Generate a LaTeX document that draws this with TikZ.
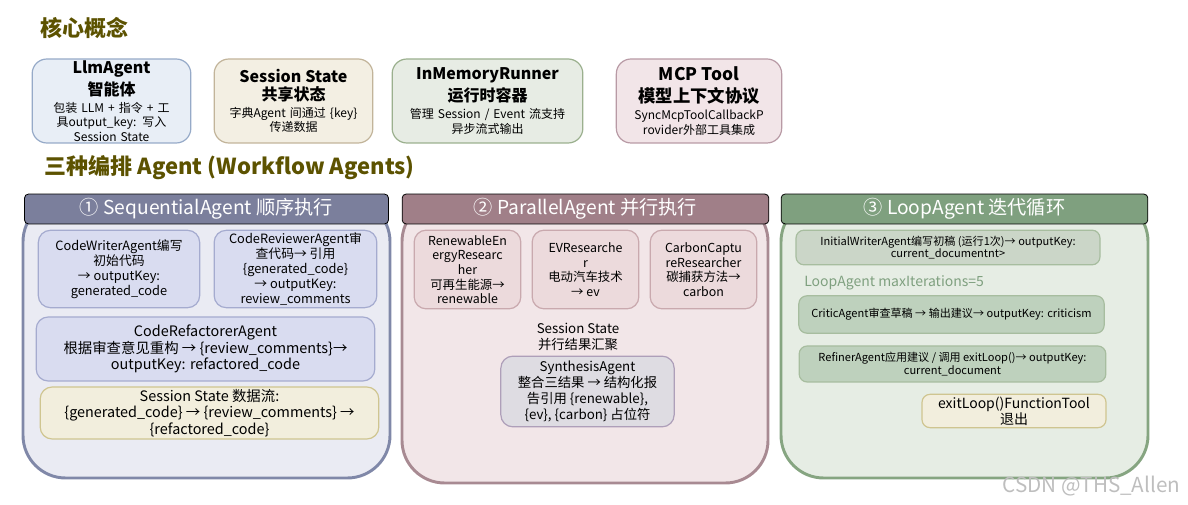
\documentclass[tikz,border=0pt]{standalone}
\usepackage{fontspec}
\setmainfont{Noto Sans CJK SC}
\usetikzlibrary{positioning}
\definecolor{titleolive}{RGB}{92,82,0}
\definecolor{llmbg}{RGB}{232,238,246}
\definecolor{llmline}{RGB}{150,170,200}
\definecolor{statebg}{RGB}{243,239,227}
\definecolor{stateline}{RGB}{194,180,154}
\definecolor{runbg}{RGB}{231,236,228}
\definecolor{runline}{RGB}{155,176,142}
\definecolor{mcpbg}{RGB}{242,229,232}
\definecolor{mcpline}{RGB}{184,154,165}
\definecolor{seqhead}{RGB}{123,127,156}
\definecolor{seqbg}{RGB}{234,235,243}
\definecolor{seqline}{RGB}{128,136,168}
\definecolor{seqcard}{RGB}{217,220,240}
\definecolor{seqcardline}{RGB}{165,171,207}
\definecolor{flowbg}{RGB}{242,238,221}
\definecolor{flowline}{RGB}{207,197,144}
\definecolor{parhead}{RGB}{160,127,136}
\definecolor{parbg}{RGB}{242,230,232}
\definecolor{parline}{RGB}{168,138,146}
\definecolor{parcard}{RGB}{236,218,220}
\definecolor{parcardline}{RGB}{201,169,174}
\definecolor{synbg}{RGB}{222,220,226}
\definecolor{synline}{RGB}{174,159,185}
\definecolor{loophead}{RGB}{127,160,127}
\definecolor{loopbg}{RGB}{230,237,228}
\definecolor{loopline}{RGB}{134,165,129}
\definecolor{loopcard}{RGB}{203,214,200}
\definecolor{loopcardb}{RGB}{190,209,189}
\definecolor{loopcardline}{RGB}{167,189,159}
\definecolor{marklight}{RGB}{190,190,190}
\newcommand{\cname}[1]{{\fontsize{12}{14}\bfseries\selectfont #1}}
\newcommand{\cnamebig}[1]{{\fontsize{13}{15}\bfseries\selectfont #1}}

\begin{document}
\begin{tikzpicture}[x=0.75pt,y=-0.75pt,
    card/.style={draw, rounded corners=9, line width=0.9pt, align=center, inner sep=1pt},
    concept/.style={card, rounded corners=11, minimum height=63pt, font=\fontsize{9}{11}\selectfont},
    panel/.style={line width=2.2pt, rounded corners=32},
    header/.style={draw=black, line width=0.6pt, rounded corners=3, text=white,
      minimum height=18pt, font=\fontsize{14.4}{16}\selectfont},
    heading/.style={text=titleolive, font=\fontsize{16.5}{20}\bfseries\selectfont, anchor=west}]
  \useasboundingbox (0,0) rectangle (1188,505);

  % core concepts
  \node[heading] (coretitle) at (36,28) {核心概念};
  \node[concept, fill=llmbg, draw=llmline, minimum width=119pt, text width=115pt] (llm) at (111.5,101)
    {\cname{LlmAgent}\\[2.5pt]\cname{智能体}\\[1.5pt]
     包装 LLM + 指令 + 工\\具output\_key: 写入\\Session State};
  \node[concept, fill=statebg, draw=stateline, minimum width=119pt, text width=115pt] (state) at (293.5,101)
    {\cname{Session State}\\[2.5pt]\cname{共享状态}\\[1.5pt]
     字典Agent 间通过 \{key\}\\传递数据};
  \node[concept, fill=runbg, draw=runline, minimum width=143pt, text width=139pt] (runner) at (487.5,101)
    {\cname{InMemoryRunner}\\[2.5pt]\cname{运行时容器}\\[1.5pt]
     管理 Session / Event 流支持\\异步流式输出};
  \node[concept, fill=mcpbg, draw=mcpline, minimum width=124pt, text width=120pt] (mcp) at (699,101)
    {\cnamebig{MCP Tool}\\[4pt]\cnamebig{模型上下文协议}\\[2pt]
     SyncMcpToolCallbackP\\rovider外部工具集成};

  \node[heading] (flowtitle) at (40,168) {三种编排 Agent (Workflow Agents)};

  % sequential agent
  \draw[panel, fill=seqbg, draw=seqline] (23,199) rectangle (390,478);
  \node[header, fill=seqhead, minimum width=273pt] (seqhd) at (206.5,209) {① SequentialAgent 顺序执行};
  \node[card, fill=seqcard, draw=seqcardline, minimum width=121pt, minimum height=58pt,
    font=\fontsize{9.6}{11.2}\selectfont] (writer) at (119,269)
    {CodeWriterAgent编写\\初始代码\\→ outputKey:\\generated\_code};
  \node[card, fill=seqcard, draw=seqcardline, minimum width=122pt, minimum height=58pt,
    font=\fontsize{9.6}{11.2}\selectfont] (reviewer) at (295.5,269)
    {CodeReviewerAgent审\\查代码→ 引用\\\{generated\_code\}\\→ outputKey:\\review\_comments};
  \node[card, fill=seqcard, draw=seqcardline, minimum width=254pt, minimum height=48pt,
    font=\fontsize{10.8}{12.6}\selectfont] (refactor) at (205.5,349)
    {CodeRefactorerAgent\\根据审查意见重构 → \{review\_comments\}→\\outputKey: refactored\_code};
  \node[card, fill=flowbg, draw=flowline, minimum width=254pt, minimum height=39pt,
    font=\fontsize{10.8}{12.6}\selectfont] (seqflow) at (209.5,413)
    {Session State 数据流:\\\{generated\_code\} → \{review\_comments\} →\\\{refactored\_code\}};

  % parallel agent
  \draw[panel, fill=parbg, draw=parline] (402,199) rectangle (768,483);
  \node[header, fill=parhead, minimum width=275pt] (parhd) at (585.5,209) {② ParallelAgent 并行执行};
  \node[card, fill=parcard, draw=parcardline, minimum width=80pt, minimum height=59pt,
    font=\fontsize{9.3}{11}\selectfont] (renew) at (467.5,269.5)
    {RenewableEn\\ergyResearc\\her\\可再生能源→\\renewable};
  \node[card, fill=parcard, draw=parcardline, minimum width=80pt, minimum height=59pt,
    font=\fontsize{9.3}{11}\selectfont] (evres) at (585.5,269.5)
    {EVResearche\\r\\电动汽车技术\\→ ev};
  \node[card, fill=parcard, draw=parcardline, minimum width=80pt, minimum height=59pt,
    font=\fontsize{9.3}{11}\selectfont] (carbon) at (703.5,269.5)
    {CarbonCaptu\\reResearcher\\碳捕获方法→\\carbon};
  \node[align=center, font=\fontsize{10}{11.5}\selectfont] (parstate) at (578,337)
    {Session State\\并行结果汇聚};
  \node[card, fill=synbg, draw=synline, minimum width=130pt, minimum height=53pt,
    font=\fontsize{10}{11.8}\selectfont] (synth) at (587.5,391.5)
    {SynthesisAgent\\整合三结果 → 结构化报\\告引用 \{renewable\},\\\{ev\}, \{carbon\} 占位符};

  % loop agent
  \draw[panel, fill=loopbg, draw=loopline] (781,199) rectangle (1148,478);
  \node[header, fill=loophead, minimum width=275pt] (loophd) at (964.5,209) {③ LoopAgent 迭代循环};
  \node[card, rounded corners=6, fill=loopcard, draw=loopcardline, minimum width=228pt, minimum height=26pt,
    font=\fontsize{8.3}{9.6}\selectfont] (initwriter) at (948,247.5)
    {InitialWriterAgent编写初稿 (运行1次)→ outputKey:\\current\_documentnt>};
  \node[anchor=west, text=loophead, font=\fontsize{10.5}{12}\selectfont, inner sep=0pt] (maxiter) at (804,283)
    {LoopAgent maxIterations=5};
  \node[card, rounded corners=6, fill=loopcardb, draw=loopcardline, minimum width=229pt, minimum height=28pt,
    font=\fontsize{8.3}{9.6}\selectfont] (critic) at (951.5,314.5)
    {CriticAgent审查草稿 → 输出建议→ outputKey: criticism};
  \node[card, rounded corners=6, fill=loopcardb, draw=loopcardline, minimum width=230pt, minimum height=27pt,
    font=\fontsize{8.3}{9.6}\selectfont] (refiner) at (952.5,364)
    {RefinerAgent应用建议 / 调用 exitLoop()→ outputKey:\\current\_document};
  \node[card, rounded corners=6, fill=flowbg, draw=flowline, minimum width=138pt, minimum height=25pt,
    font=\fontsize{10.5}{12}\selectfont] (exitloop) at (1014,411)
    {exitLoop()FunctionTool\\退出};

  \node[anchor=east, text=marklight, font=\fontsize{15.5}{18}\selectfont] (mark) at (1185,486) {CSDN @THS\_Allen};
\end{tikzpicture}
\end{document}
